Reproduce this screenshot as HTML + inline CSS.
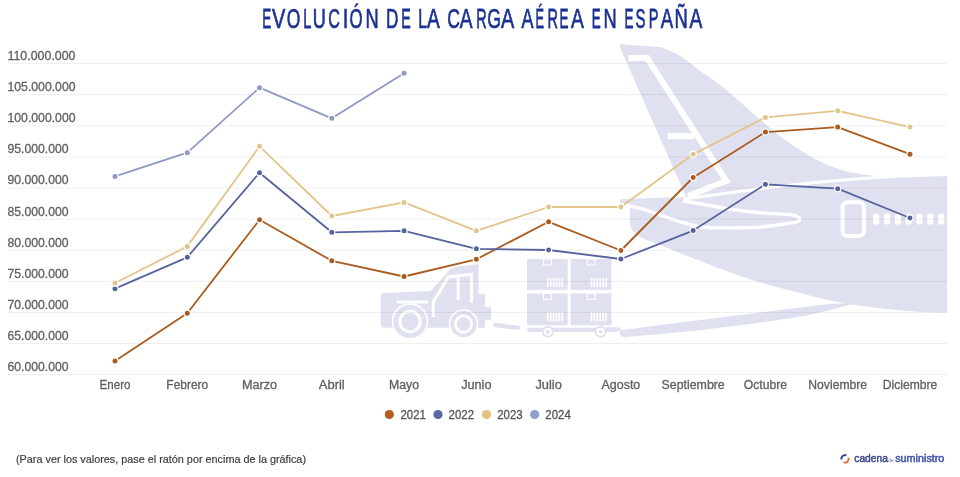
<!DOCTYPE html>
<html><head><meta charset="utf-8">
<style>
html,body{margin:0;padding:0;background:#fff;width:960px;height:477px;overflow:hidden}
svg{position:absolute;left:0;top:0;display:block;will-change:transform}
text{font-family:"Liberation Sans",sans-serif}
.yl{font-size:12.2px;fill:#606060;stroke:#606060;stroke-width:0.3px}
.xl{font-size:12px;fill:#606060;stroke:#606060;stroke-width:0.3px}
.lg{font-size:12.2px;fill:#555;stroke:#555;stroke-width:0.3px}
.tt{font-size:27.6px;fill:#1c3292;stroke:#1c3292;stroke-width:0.6px;vector-effect:non-scaling-stroke}
.ft{font-size:11.5px;fill:#3c3c3c;stroke:#3c3c3c;stroke-width:0.2px}
.lo1{font-size:10px;fill:#3a4a8c;stroke:#3a4a8c;stroke-width:0.45px}
.lo2{font-size:5px;fill:#6a77a8}
.lo3{font-size:10px;fill:#3d50aa;stroke:#3d50aa;stroke-width:0.45px}
</style></head><body>
<svg width="960" height="477" viewBox="0 0 960 477">

<g fill="#e0e1f0">
 <!-- fin + body -->
 <path d="M619.8,47 Q618.6,44 622,44.2 L661.2,47.3 C664.3,48.7 673.5,52.0 680.0,55.9 C686.5,59.8 692.7,65.4 700.0,70.7 C707.3,76.0 712.7,78.8 724.0,88.0 C735.3,97.2 755.8,116.2 768.0,126.2 C780.2,136.2 787.5,141.8 797.3,148.2 C807.1,154.6 816.8,160.2 826.6,164.4 C836.4,168.6 846.2,171.1 856.0,173.2 C865.8,175.2 877.1,176.1 885.3,176.7 C893.5,177.2 901.7,176.5 905.0,176.5 L947,174 L947,312.5 L938,312.5 C915,312 880,309 847.5,304 C830,301 815,297 800.6,293 C785,289 770,285.5 753.8,280.6 C738,275 722,269.5 706.9,263.4 C690,257 672,250 658,244 C650,241 645,240 642,238 C633,233 630,229 630,222 L630,208 L622,206 C619,205 619,200 622,199 L686,197 Z"/>
 <!-- lower wing -->
 <path d="M622,330 C650,326.5 675,323 700,320 C740,315 780,310 812,306 C830,304 842,303 853,303.5 C846,306 830,310 812,314.4 C780,320 740,326 700,330.3 C670,333 645,336 624,337 C619,337 618,331 622,330 Z"/>
 <!-- truck -->
 <path d="M384,293 L430.5,291 L446.6,273.4 C448,270 452,267 458,266.5 L478.6,264 L478.6,293.8 L485,293.8 L485,307.2 L491,307.2 L491,319.7 L485,319.7 L485,327.7 L384,327.7 C381,327.7 380.7,325 380.7,322 L380.7,297 C380.7,295 382,293 384,293 Z"/>
 <circle cx="410" cy="321.5" r="18.3" fill="#fff"/>
 <circle cx="463.5" cy="324" r="14.8" fill="#fff"/>
 <circle cx="410" cy="321.5" r="16.6"/>
 <circle cx="463.5" cy="324" r="13.2"/>
 <!-- tow bar -->
 <path d="M494,322.5 L520,326 L519.5,330 L493.5,327 Z"/>
 <!-- boxes -->
 <rect x="527" y="259" width="40.7" height="30.8"/>
 <rect x="570.7" y="259" width="40.8" height="30.8"/>
 <rect x="527" y="293.4" width="40.7" height="31.9"/>
 <rect x="570.7" y="293.4" width="40.8" height="31.9"/>
 <rect x="527" y="327.7" width="90.5" height="4.2" rx="2"/>
 <circle cx="547.8" cy="331.7" r="6"/>
 <circle cx="600.6" cy="331.7" r="6"/>
 <path d="M606,327.3 L620,327.5 L622,331 L606,331 Z"/>
</g>
<g fill="none" stroke="#fff">
 <!-- fin stripe -->
 <path d="M628.5,57.9 L647,57.9 L726.3,181 L688,196" stroke-width="6" stroke-linejoin="miter"/>
 <path d="M667.6,136.2 L694,136.2" stroke-width="6.3"/>
 <!-- fuselage top line -->
 <path d="M684,199 L765,188 C820,181 880,176 947,174.5" stroke-width="3"/>
 <!-- stabilizer outline -->
 <path d="M683,201 C700,203.5 715,206.5 727.5,208.75 C745,211.5 755,212.5 765,213.1 C780,214 788,214 795,215.5 C802,217.5 802,222 790,223.1 C775,225.5 765,227.3 752.5,227.5 C735,228 715,228 702.5,227.3 C690,226 670,219 645,209.7 C635,207 628,205.5 623,204.5" stroke-width="3.4"/>
 <!-- door -->
 <rect x="842.6" y="202.2" width="21.3" height="33.8" rx="5" stroke-width="4"/>
 <!-- truck details -->
 <path d="M396.7,302 L428,302" stroke-width="3"/>
 <path d="M433.2,317 L433.2,302 L448.4,277 L471.5,274.5 L471.5,302.7" stroke-width="3"/>
 <path d="M458.2,278 L458.2,300" stroke-width="3"/>
 <circle cx="410" cy="321.5" r="10.2" stroke-width="3"/>
 <circle cx="463.5" cy="324" r="8.1" stroke-width="2.6"/>
 <circle cx="547.8" cy="331.7" r="3" stroke-width="2"/>
 <circle cx="600.6" cy="331.7" r="3" stroke-width="2"/>
</g>
<g fill="#fff">
 <rect x="873.00" y="213.4" width="6.4" height="11.2" rx="3.2"/>
 <rect x="883.83" y="213.4" width="6.4" height="11.2" rx="3.2"/>
 <rect x="894.66" y="213.4" width="6.4" height="11.2" rx="3.2"/>
 <rect x="905.49" y="213.4" width="6.4" height="11.2" rx="3.2"/>
 <rect x="916.32" y="213.4" width="6.4" height="11.2" rx="3.2"/>
 <rect x="927.15" y="213.4" width="6.4" height="11.2" rx="3.2"/>
 <rect x="937.98" y="213.4" width="6.4" height="11.2" rx="3.2"/>
</g>
<rect x="543.5" y="259" width="8" height="6" fill="none" stroke="#fff" stroke-width="1"/>
<rect x="547.0" y="278" width="1.6" height="9" fill="#fff"/>
<rect x="549.9" y="278" width="1.6" height="9" fill="#fff"/>
<rect x="552.8" y="278" width="1.6" height="9" fill="#fff"/>
<rect x="555.7" y="278" width="1.6" height="9" fill="#fff"/>
<rect x="558.6" y="278" width="1.6" height="9" fill="#fff"/>
<rect x="561.5" y="278" width="1.6" height="9" fill="#fff"/>
<rect x="587.2" y="259" width="8" height="6" fill="none" stroke="#fff" stroke-width="1"/>
<rect x="590.7" y="278" width="1.6" height="9" fill="#fff"/>
<rect x="593.6" y="278" width="1.6" height="9" fill="#fff"/>
<rect x="596.5" y="278" width="1.6" height="9" fill="#fff"/>
<rect x="599.4" y="278" width="1.6" height="9" fill="#fff"/>
<rect x="602.3" y="278" width="1.6" height="9" fill="#fff"/>
<rect x="605.2" y="278" width="1.6" height="9" fill="#fff"/>
<rect x="543.5" y="293.4" width="8" height="6" fill="none" stroke="#fff" stroke-width="1"/>
<rect x="547.0" y="312.4" width="1.6" height="9" fill="#fff"/>
<rect x="549.9" y="312.4" width="1.6" height="9" fill="#fff"/>
<rect x="552.8" y="312.4" width="1.6" height="9" fill="#fff"/>
<rect x="555.7" y="312.4" width="1.6" height="9" fill="#fff"/>
<rect x="558.6" y="312.4" width="1.6" height="9" fill="#fff"/>
<rect x="561.5" y="312.4" width="1.6" height="9" fill="#fff"/>
<rect x="587.2" y="293.4" width="8" height="6" fill="none" stroke="#fff" stroke-width="1"/>
<rect x="590.7" y="312.4" width="1.6" height="9" fill="#fff"/>
<rect x="593.6" y="312.4" width="1.6" height="9" fill="#fff"/>
<rect x="596.5" y="312.4" width="1.6" height="9" fill="#fff"/>
<rect x="599.4" y="312.4" width="1.6" height="9" fill="#fff"/>
<rect x="602.3" y="312.4" width="1.6" height="9" fill="#fff"/>
<rect x="605.2" y="312.4" width="1.6" height="9" fill="#fff"/>
<rect x="8" y="63.10" width="939" height="1" fill="#000" opacity="0.066"/>
<rect x="8" y="94.20" width="939" height="1" fill="#000" opacity="0.066"/>
<rect x="8" y="125.30" width="939" height="1" fill="#000" opacity="0.066"/>
<rect x="8" y="156.40" width="939" height="1" fill="#000" opacity="0.066"/>
<rect x="8" y="187.50" width="939" height="1" fill="#000" opacity="0.066"/>
<rect x="8" y="218.60" width="939" height="1" fill="#000" opacity="0.066"/>
<rect x="8" y="249.70" width="939" height="1" fill="#000" opacity="0.066"/>
<rect x="8" y="280.80" width="939" height="1" fill="#000" opacity="0.066"/>
<rect x="8" y="311.90" width="939" height="1" fill="#000" opacity="0.066"/>
<rect x="8" y="343.00" width="939" height="1" fill="#000" opacity="0.066"/>
<rect x="8" y="374.10" width="939" height="1" fill="#000" opacity="0.066"/>
<polyline points="115.00,360.90 187.27,313.20 259.54,219.80 331.81,260.80 404.08,276.50 476.35,259.30 548.62,221.80 620.89,250.50 693.16,177.50 765.43,132.10 837.70,127.10 909.97,154.20" fill="none" stroke="#aa5b1f" stroke-width="1.8" stroke-linejoin="round" stroke-linecap="round"/>
<polyline points="115.00,288.70 187.27,257.30 259.54,172.70 331.81,232.30 404.08,230.80 476.35,248.80 548.62,250.00 620.89,259.00 693.16,230.60 765.43,184.30 837.70,188.70 909.97,218.00" fill="none" stroke="#56639c" stroke-width="1.8" stroke-linejoin="round" stroke-linecap="round"/>
<polyline points="115.00,283.00 187.27,246.40 259.54,146.30 331.81,216.00 404.08,202.40 476.35,230.80 548.62,207.00 620.89,207.00 693.16,154.20 765.43,117.40 837.70,110.80 909.97,127.10" fill="none" stroke="#e3c48a" stroke-width="1.8" stroke-linejoin="round" stroke-linecap="round"/>
<polyline points="115.00,176.40 187.27,152.70 259.54,87.70 331.81,118.30 404.08,73.20" fill="none" stroke="#8f99c6" stroke-width="1.8" stroke-linejoin="round" stroke-linecap="round"/>
<circle cx="115.00" cy="360.90" r="3.1" fill="#aa5b1f" stroke="#fff" stroke-width="1.2"/>
<circle cx="187.27" cy="313.20" r="3.1" fill="#aa5b1f" stroke="#fff" stroke-width="1.2"/>
<circle cx="259.54" cy="219.80" r="3.1" fill="#aa5b1f" stroke="#fff" stroke-width="1.2"/>
<circle cx="331.81" cy="260.80" r="3.1" fill="#aa5b1f" stroke="#fff" stroke-width="1.2"/>
<circle cx="404.08" cy="276.50" r="3.1" fill="#aa5b1f" stroke="#fff" stroke-width="1.2"/>
<circle cx="476.35" cy="259.30" r="3.1" fill="#aa5b1f" stroke="#fff" stroke-width="1.2"/>
<circle cx="548.62" cy="221.80" r="3.1" fill="#aa5b1f" stroke="#fff" stroke-width="1.2"/>
<circle cx="620.89" cy="250.50" r="3.1" fill="#aa5b1f" stroke="#fff" stroke-width="1.2"/>
<circle cx="693.16" cy="177.50" r="3.1" fill="#aa5b1f" stroke="#fff" stroke-width="1.2"/>
<circle cx="765.43" cy="132.10" r="3.1" fill="#aa5b1f" stroke="#fff" stroke-width="1.2"/>
<circle cx="837.70" cy="127.10" r="3.1" fill="#aa5b1f" stroke="#fff" stroke-width="1.2"/>
<circle cx="909.97" cy="154.20" r="3.1" fill="#aa5b1f" stroke="#fff" stroke-width="1.2"/>
<circle cx="115.00" cy="288.70" r="3.1" fill="#56639c" stroke="#fff" stroke-width="1.2"/>
<circle cx="187.27" cy="257.30" r="3.1" fill="#56639c" stroke="#fff" stroke-width="1.2"/>
<circle cx="259.54" cy="172.70" r="3.1" fill="#56639c" stroke="#fff" stroke-width="1.2"/>
<circle cx="331.81" cy="232.30" r="3.1" fill="#56639c" stroke="#fff" stroke-width="1.2"/>
<circle cx="404.08" cy="230.80" r="3.1" fill="#56639c" stroke="#fff" stroke-width="1.2"/>
<circle cx="476.35" cy="248.80" r="3.1" fill="#56639c" stroke="#fff" stroke-width="1.2"/>
<circle cx="548.62" cy="250.00" r="3.1" fill="#56639c" stroke="#fff" stroke-width="1.2"/>
<circle cx="620.89" cy="259.00" r="3.1" fill="#56639c" stroke="#fff" stroke-width="1.2"/>
<circle cx="693.16" cy="230.60" r="3.1" fill="#56639c" stroke="#fff" stroke-width="1.2"/>
<circle cx="765.43" cy="184.30" r="3.1" fill="#56639c" stroke="#fff" stroke-width="1.2"/>
<circle cx="837.70" cy="188.70" r="3.1" fill="#56639c" stroke="#fff" stroke-width="1.2"/>
<circle cx="909.97" cy="218.00" r="3.1" fill="#56639c" stroke="#fff" stroke-width="1.2"/>
<circle cx="115.00" cy="283.00" r="3.1" fill="#e3c48a" stroke="#fff" stroke-width="1.2"/>
<circle cx="187.27" cy="246.40" r="3.1" fill="#e3c48a" stroke="#fff" stroke-width="1.2"/>
<circle cx="259.54" cy="146.30" r="3.1" fill="#e3c48a" stroke="#fff" stroke-width="1.2"/>
<circle cx="331.81" cy="216.00" r="3.1" fill="#e3c48a" stroke="#fff" stroke-width="1.2"/>
<circle cx="404.08" cy="202.40" r="3.1" fill="#e3c48a" stroke="#fff" stroke-width="1.2"/>
<circle cx="476.35" cy="230.80" r="3.1" fill="#e3c48a" stroke="#fff" stroke-width="1.2"/>
<circle cx="548.62" cy="207.00" r="3.1" fill="#e3c48a" stroke="#fff" stroke-width="1.2"/>
<circle cx="620.89" cy="207.00" r="3.1" fill="#e3c48a" stroke="#fff" stroke-width="1.2"/>
<circle cx="693.16" cy="154.20" r="3.1" fill="#e3c48a" stroke="#fff" stroke-width="1.2"/>
<circle cx="765.43" cy="117.40" r="3.1" fill="#e3c48a" stroke="#fff" stroke-width="1.2"/>
<circle cx="837.70" cy="110.80" r="3.1" fill="#e3c48a" stroke="#fff" stroke-width="1.2"/>
<circle cx="909.97" cy="127.10" r="3.1" fill="#e3c48a" stroke="#fff" stroke-width="1.2"/>
<circle cx="115.00" cy="176.40" r="3.1" fill="#8f99c6" stroke="#fff" stroke-width="1.2"/>
<circle cx="187.27" cy="152.70" r="3.1" fill="#8f99c6" stroke="#fff" stroke-width="1.2"/>
<circle cx="259.54" cy="87.70" r="3.1" fill="#8f99c6" stroke="#fff" stroke-width="1.2"/>
<circle cx="331.81" cy="118.30" r="3.1" fill="#8f99c6" stroke="#fff" stroke-width="1.2"/>
<circle cx="404.08" cy="73.20" r="3.1" fill="#8f99c6" stroke="#fff" stroke-width="1.2"/>
<text x="7.5" y="60.00" class="yl" textLength="68.0" lengthAdjust="spacingAndGlyphs">110.000.000</text>
<text x="7.5" y="91.10" class="yl" textLength="68.0" lengthAdjust="spacingAndGlyphs">105.000.000</text>
<text x="7.5" y="122.20" class="yl" textLength="68.0" lengthAdjust="spacingAndGlyphs">100.000.000</text>
<text x="7.5" y="153.30" class="yl" textLength="61.1" lengthAdjust="spacingAndGlyphs">95.000.000</text>
<text x="7.5" y="184.40" class="yl" textLength="61.1" lengthAdjust="spacingAndGlyphs">90.000.000</text>
<text x="7.5" y="215.50" class="yl" textLength="61.1" lengthAdjust="spacingAndGlyphs">85.000.000</text>
<text x="7.5" y="246.60" class="yl" textLength="61.1" lengthAdjust="spacingAndGlyphs">80.000.000</text>
<text x="7.5" y="277.70" class="yl" textLength="61.1" lengthAdjust="spacingAndGlyphs">75.000.000</text>
<text x="7.5" y="308.80" class="yl" textLength="61.1" lengthAdjust="spacingAndGlyphs">70.000.000</text>
<text x="7.5" y="339.90" class="yl" textLength="61.1" lengthAdjust="spacingAndGlyphs">65.000.000</text>
<text x="7.5" y="371.00" class="yl" textLength="61.1" lengthAdjust="spacingAndGlyphs">60.000.000</text>
<text x="99.55" y="389" class="xl" textLength="30.9" lengthAdjust="spacingAndGlyphs">Enero</text>
<text x="166.37" y="389" class="xl" textLength="41.8" lengthAdjust="spacingAndGlyphs">Febrero</text>
<text x="242.04" y="389" class="xl" textLength="35.0" lengthAdjust="spacingAndGlyphs">Marzo</text>
<text x="318.86" y="389" class="xl" textLength="25.9" lengthAdjust="spacingAndGlyphs">Abril</text>
<text x="389.08" y="389" class="xl" textLength="30.0" lengthAdjust="spacingAndGlyphs">Mayo</text>
<text x="461.20" y="389" class="xl" textLength="30.3" lengthAdjust="spacingAndGlyphs">Junio</text>
<text x="535.42" y="389" class="xl" textLength="26.4" lengthAdjust="spacingAndGlyphs">Julio</text>
<text x="601.49" y="389" class="xl" textLength="38.8" lengthAdjust="spacingAndGlyphs">Agosto</text>
<text x="661.56" y="389" class="xl" textLength="63.2" lengthAdjust="spacingAndGlyphs">Septiembre</text>
<text x="743.88" y="389" class="xl" textLength="43.1" lengthAdjust="spacingAndGlyphs">Octubre</text>
<text x="808.35" y="389" class="xl" textLength="58.7" lengthAdjust="spacingAndGlyphs">Noviembre</text>
<text x="882.77" y="389" class="xl" textLength="54.4" lengthAdjust="spacingAndGlyphs">Diciembre</text>
<circle cx="389.3" cy="414.5" r="4.6" fill="#b35e1c"/>
<text x="400.5" y="419.3" class="lg" textLength="25.5" lengthAdjust="spacingAndGlyphs">2021</text>
<circle cx="438" cy="414.5" r="4.6" fill="#5867a3"/>
<text x="448.59999999999997" y="419.3" class="lg" textLength="25.5" lengthAdjust="spacingAndGlyphs">2022</text>
<circle cx="486.6" cy="414.5" r="4.6" fill="#e6c27f"/>
<text x="497.2" y="419.3" class="lg" textLength="25.5" lengthAdjust="spacingAndGlyphs">2023</text>
<circle cx="534.7" cy="414.5" r="4.6" fill="#909dd0"/>
<text x="545.3000000000001" y="419.3" class="lg" textLength="25.5" lengthAdjust="spacingAndGlyphs">2024</text>
<text transform="translate(262.20,27.7) scale(0.488,1)" class="tt">E</text>
<text transform="translate(271.95,27.7) scale(0.725,1)" class="tt">V</text>
<text transform="translate(286.68,27.7) scale(0.631,1)" class="tt">O</text>
<text transform="translate(303.35,27.7) scale(0.530,1)" class="tt">L</text>
<text transform="translate(312.70,27.7) scale(0.657,1)" class="tt">U</text>
<text transform="translate(328.28,27.7) scale(0.584,1)" class="tt">C</text>
<text transform="translate(342.64,27.7) scale(0.732,1)" class="tt">I</text>
<text transform="translate(349.51,27.7) scale(0.610,1)" class="tt">Ó</text>
<text transform="translate(365.50,27.7) scale(0.661,1)" class="tt">N</text>
<text transform="translate(385.99,27.7) scale(0.624,1)" class="tt">D</text>
<text transform="translate(401.24,27.7) scale(0.515,1)" class="tt">E</text>
<text transform="translate(418.22,27.7) scale(0.567,1)" class="tt">L</text>
<text transform="translate(426.96,27.7) scale(0.694,1)" class="tt">A</text>
<text transform="translate(447.31,27.7) scale(0.635,1)" class="tt">C</text>
<text transform="translate(459.86,27.7) scale(0.694,1)" class="tt">A</text>
<text transform="translate(476.22,27.7) scale(0.522,1)" class="tt">R</text>
<text transform="translate(487.32,27.7) scale(0.638,1)" class="tt">G</text>
<text transform="translate(501.06,27.7) scale(0.721,1)" class="tt">A</text>
<text transform="translate(521.51,27.7) scale(0.650,1)" class="tt">A</text>
<text transform="translate(535.51,27.7) scale(0.461,1)" class="tt">É</text>
<text transform="translate(547.41,27.7) scale(0.525,1)" class="tt">R</text>
<text transform="translate(559.60,27.7) scale(0.488,1)" class="tt">E</text>
<text transform="translate(571.06,27.7) scale(0.699,1)" class="tt">A</text>
<text transform="translate(591.70,27.7) scale(0.488,1)" class="tt">E</text>
<text transform="translate(603.40,27.7) scale(0.661,1)" class="tt">N</text>
<text transform="translate(624.60,27.7) scale(0.488,1)" class="tt">E</text>
<text transform="translate(635.41,27.7) scale(0.542,1)" class="tt">S</text>
<text transform="translate(648.71,27.7) scale(0.524,1)" class="tt">P</text>
<text transform="translate(660.66,27.7) scale(0.672,1)" class="tt">A</text>
<text transform="translate(674.59,27.7) scale(0.668,1)" class="tt">Ñ</text>
<text transform="translate(689.46,27.7) scale(0.694,1)" class="tt">A</text>
<text x="16" y="462.5" class="ft" textLength="290" lengthAdjust="spacingAndGlyphs">(Para ver los valores, pase el ratón por encima de la gráfica)</text>
<g fill="none" stroke-width="1.9" stroke-linecap="butt">
 <path d="M846.45,455.49 A3.7,3.7 0 0 0 841.36,459.54" stroke="#2e3d98"/>
 <path d="M848.54,457.82 A3.7,3.7 0 0 1 843.44,462.25" stroke="#e0703e"/>
</g>
<text x="854.3" y="461.5" class="lo1" textLength="33.6" lengthAdjust="spacingAndGlyphs">cadena</text>
<text x="888.3" y="461.5" class="lo2">de</text>
<text x="895.2" y="461.5" class="lo3" textLength="49.2" lengthAdjust="spacingAndGlyphs">suministro</text>
</svg>
</body></html>
